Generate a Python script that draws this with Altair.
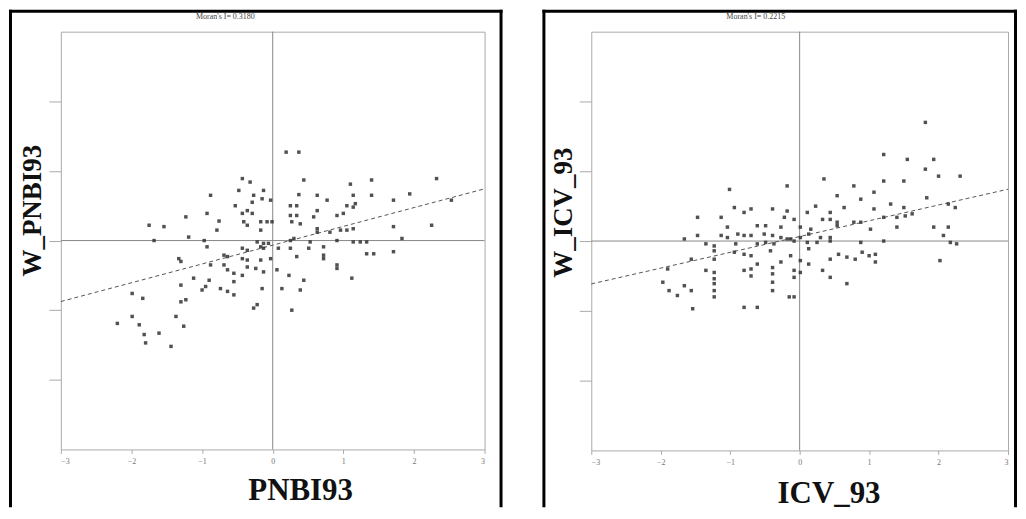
import altair as alt
import pandas as pd

# ---------------- data ----------------
ticks_x = [-3, -2, -1, 0, 1, 2, 3]
ticks_y = [-2, -1, 0, 1, 2]

left_title = "Moran's I= 0.3180"
left_xname = "PNBI93"
left_yname = "W_PNBI93"
left_x = [0.19, 0.37, -0.43, -0.32, 0.44, 1.10, 1.40, 2.32, -0.88, -0.48, -0.27, -0.13, -0.15, -0.03,
          0.37, 0.63, 0.77, 1.14, 1.40, 1.71, 1.94, 2.53, -0.53, -0.29, -0.36, -0.43, -0.29, 0.25,
          0.34, 0.63, 1.05, 1.14, 1.17, -1.23, -0.93, -0.76, -0.41, -0.36, -0.17, -0.08, -0.01, 0.25,
          0.34, 0.27, 0.39, 0.58, 0.91, 1.00, 1.71, 2.25, -1.75, -1.54, -0.79, -0.17, 0.63, 0.63,
          0.81, 0.96, 1.05, 1.14, -1.19, -0.97, -0.22, -0.13, -0.06, 0.30, 0.25, 0.53, 0.91, 1.14,
          1.24, 1.33, 1.83, 1.71, 1.33, 1.43, -1.68, -0.93, -0.43, -0.36, -0.17, -0.13, 0.08, 0.25,
          0.51, 0.72, 0.72, 0.72, -1.33, -1.30, -0.69, -0.64, -0.43, -0.36, -0.17, -0.03, 0.34, 0.91,
          0.91, -0.88, -0.69, -0.64, -0.36, -0.24, -0.55, -0.43, -0.13, 0.06, 0.23, -1.12, -0.90, -0.55,
          0.44, 1.12, -1.30, -1.00, -0.95, -0.74, -0.64, -0.55, -0.15, 0.13, 0.39, -1.99, -1.84, -1.30,
          -1.23, -0.22, 0.27, -1.99, -1.89, -2.20, -1.37, -1.26, -1.82, -1.61, -1.80, -1.44, -0.27]
left_y = [1.27, 1.27, 0.89, 0.84, 0.87, 0.81, 0.87, 0.89, 0.65, 0.72, 0.65, 0.72, 0.60, 0.58,
          0.66, 0.65, 0.58, 0.65, 0.65, 0.58, 0.67, 0.58, 0.50, 0.55, 0.43, 0.39, 0.39, 0.50,
          0.50, 0.43, 0.50, 0.48, 0.53, 0.34, 0.39, 0.28, 0.27, 0.22, 0.27, 0.27, 0.27, 0.36,
          0.36, 0.27, 0.24, 0.34, 0.36, 0.39, 0.20, 0.22, 0.22, 0.20, 0.15, 0.15, 0.17, 0.12,
          0.12, 0.15, 0.15, 0.17, 0.05, 0.00, -0.02, -0.04, -0.04, 0.03, 0.00, -0.02, 0.00, -0.02,
          -0.02, -0.02, 0.03, -0.16, -0.19, -0.19, 0.00, -0.09, -0.11, -0.14, -0.09, -0.11, -0.11, -0.11,
          -0.11, -0.09, -0.21, -0.26, -0.26, -0.30, -0.21, -0.23, -0.26, -0.28, -0.28, -0.26, -0.23, -0.35,
          -0.40, -0.35, -0.35, -0.42, -0.38, -0.40, -0.47, -0.50, -0.45, -0.42, -0.50, -0.54, -0.57, -0.59,
          -0.57, -0.54, -0.64, -0.71, -0.66, -0.69, -0.73, -0.78, -0.69, -0.69, -0.71, -0.76, -0.83, -0.88,
          -0.85, -0.92, -1.00, -1.09, -1.21, -1.19, -1.09, -1.23, -1.35, -1.33, -1.47, -1.52, -0.97]
left_fit_x = [-3, 3]
left_fit_y = [-0.876, 0.743]

right_title = "Moran's I= 0.2215"
right_xname = "ICV_93"
right_yname = "W_ICV_93"
right_x = [1.81, 1.21, 1.55, 1.93, 1.81, 2.00, 2.31, 0.35, 1.21, 1.50, 0.78, -0.18, -1.01, 1.07,
           0.54, 0.88, 1.83, -0.94, -0.80, -0.70, -0.39, -0.18, 0.23, 0.44, 0.64, 1.07, 1.31, 1.50,
           2.14, 2.24, -1.47, -1.13, -0.22, -0.08, 0.11, 0.33, 0.54, 0.44, 0.78, 0.88, 1.21, 1.40,
           1.52, 1.62, -1.04, -0.61, -0.49, -0.27, 0.01, 0.16, 0.54, 1.02, 1.40, 1.93, 2.14, -1.66,
           -1.47, -1.13, -1.04, -0.89, -0.80, -0.70, -0.51, -0.39, -0.27, -0.13, 0.01, 0.13, 0.30, 0.44,
           2.07, -1.35, -1.23, -0.92, -0.61, -0.49, -0.37, -0.18, -0.08, 0.11, 0.25, 0.44, 0.88, 1.21,
           2.17, 2.26, -1.23, -0.94, -0.80, -0.70, -0.42, -0.13, 0.13, 0.44, 0.56, 0.68, 0.80, 0.90,
           1.00, 1.09, 1.09, -1.56, -1.23, -0.61, -0.27, 0.01, 0.13, 2.02, -1.35, -1.23, -0.80, -0.70,
           -0.39, -0.08, 0.01, 0.33, -1.90, -1.23, -0.70, -0.39, -0.08, 0.44, -1.97, -1.66, -1.23, -0.39,
           0.68, -1.88, -1.76, -1.56, -1.23, -1.23, -0.39, -0.15, -0.08, -1.54, -0.80, -0.61]
right_y = [1.70, 1.24, 1.17, 1.17, 1.03, 0.93, 0.93, 0.89, 0.86, 0.86, 0.79, 0.79, 0.74, 0.70,
           0.65, 0.60, 0.62, 0.48, 0.41, 0.46, 0.46, 0.43, 0.50, 0.41, 0.48, 0.46, 0.53, 0.48,
           0.53, 0.48, 0.34, 0.34, 0.34, 0.31, 0.41, 0.31, 0.27, 0.31, 0.27, 0.27, 0.34, 0.34,
           0.36, 0.39, 0.20, 0.22, 0.22, 0.20, 0.20, 0.17, 0.22, 0.17, 0.20, 0.20, 0.20, 0.03,
           0.08, 0.08, 0.05, 0.10, 0.08, 0.08, 0.10, 0.08, 0.05, 0.03, 0.05, 0.10, 0.05, 0.05,
           0.08, -0.04, -0.07, -0.04, -0.04, -0.02, -0.04, 0.03, 0.00, -0.02, -0.02, 0.00, -0.02, 0.00,
           -0.02, -0.04, -0.14, -0.16, -0.19, -0.21, -0.14, -0.21, -0.11, -0.26, -0.19, -0.23, -0.26, -0.16,
           -0.21, -0.19, -0.30, -0.26, -0.26, -0.33, -0.30, -0.28, -0.33, -0.28, -0.42, -0.45, -0.42, -0.40,
           -0.38, -0.42, -0.45, -0.42, -0.40, -0.54, -0.50, -0.47, -0.52, -0.52, -0.59, -0.64, -0.61, -0.59,
           -0.61, -0.71, -0.78, -0.71, -0.71, -0.80, -0.71, -0.80, -0.80, -0.97, -0.95, -0.95]
right_fit_x = [-3, 3]
right_fit_y = [-0.614, 0.743]

SERIF = "Liberation Serif"


def panel(xs, ys, fx, fy, title, xname, yname, w, h, border, tpos, xt, yt):
    xsc = alt.Scale(domain=[-3, 3], nice=False, zero=False)
    ysc = alt.Scale(domain=[-3, 3], nice=False, zero=False)
    xaxis = alt.Axis(values=ticks_x, format="d", labelFont=SERIF, labelFontSize=8,
                     labelColor="#777", tickColor="#aaa", tickSize=4, labelPadding=4,
                     domain=False, grid=False, title=xname, titleFont=SERIF,
                     titleFontSize=31, titleFontWeight="bold", titleColor="#111",
                     titleX=xt[0], titleY=xt[1], titleAlign="center",
                     titleBaseline="alphabetic")
    yaxis = alt.Axis(values=ticks_y, labels=False, tickColor="#aaa", tickSize=12,
                     domain=False, grid=False, title=yname, titleFont=SERIF,
                     titleFontSize=27, titleFontWeight="bold", titleColor="#111",
                     titleX=yt[0], titleY=yt[1], titleAlign="center",
                     titleBaseline="alphabetic")
    one = pd.DataFrame({"v": [0], "t": [title]})
    bl, br, bt, bb = border  # outer edges of the black frame, 3px thick
    frame = dict(color="black", strokeWidth=0)
    left_edge = alt.Chart(one).mark_rect(**frame).encode(
        x=alt.value(bl), x2=alt.value(bl + 3), y=alt.value(bt), y2=alt.value(bb))
    right_edge = alt.Chart(one).mark_rect(**frame).encode(
        x=alt.value(br - 3), x2=alt.value(br), y=alt.value(bt), y2=alt.value(bb))
    top_edge = alt.Chart(one).mark_rect(**frame).encode(
        x=alt.value(bl), x2=alt.value(br), y=alt.value(bt), y2=alt.value(bt + 3))
    vzero = alt.Chart(one).mark_rule(color="#888", strokeWidth=1).encode(
        x=alt.X("v:Q", scale=xsc, axis=xaxis))
    hzero = alt.Chart(one).mark_rule(color="#888", strokeWidth=1).encode(
        y=alt.Y("v:Q", scale=ysc, axis=yaxis))
    fit = alt.Chart(pd.DataFrame({"x": fx, "y": fy})).mark_line(
        color="#555", strokeWidth=1, strokeDash=[4, 3]).encode(
        x=alt.X("x:Q", scale=xsc, axis=xaxis), y=alt.Y("y:Q", scale=ysc, axis=yaxis))
    pts = alt.Chart(pd.DataFrame({"x": xs, "y": ys})).mark_point(
        filled=True, shape="square", size=12, color="#333", opacity=0.85).encode(
        x=alt.X("x:Q", scale=xsc, axis=xaxis), y=alt.Y("y:Q", scale=ysc, axis=yaxis))
    txt = alt.Chart(one).mark_text(font=SERIF, fontSize=8, color="#444",
                                   baseline="middle", align="center").encode(
        text="t:N", x=alt.value(tpos[0]), y=alt.value(tpos[1]))
    return alt.layer(left_edge, right_edge, top_edge, vzero, hzero, fit, pts, txt).properties(
        width=w, height=h)


left = panel(left_x, left_y, left_fit_x, left_fit_y, left_title, left_xname, left_yname,
             425, 419, (-52, 443, -22, 477), (165, -15), (240, 50), (-20, 179))
right = panel(right_x, right_y, right_fit_x, right_fit_y, right_title, right_xname, right_yname,
              418, 420, (-49, 427, -22, 477), (165, -15), (238, 52), (-20, 181))

chart = alt.hconcat(left, right, spacing=38).properties(padding=0).configure_view(
    stroke="#aaa", strokeWidth=1)

chart.save("out.html", embed_options={"renderer": "svg", "actions": False})
